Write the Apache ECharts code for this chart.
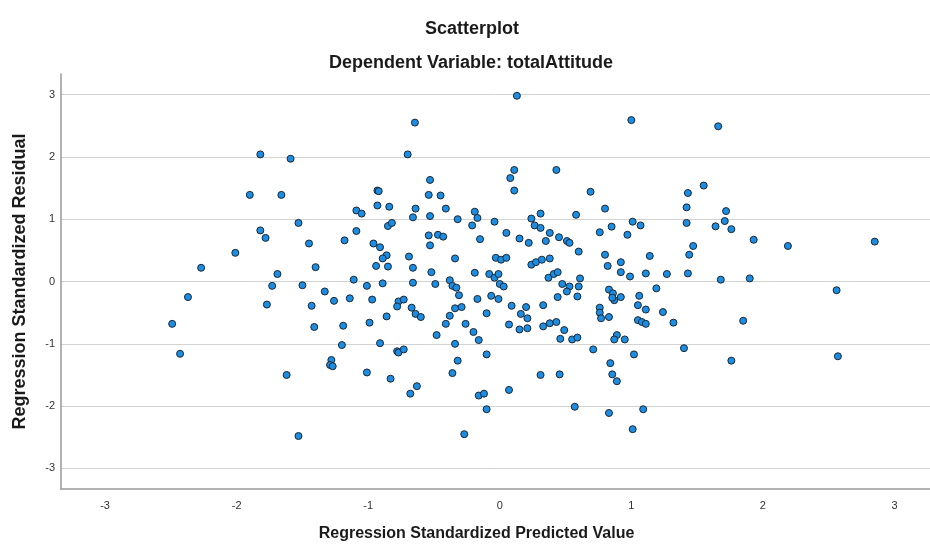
<!DOCTYPE html>
<html>
<head>
<meta charset="utf-8">
<script src="https://cdn.jsdelivr.net/npm/echarts@6/dist/echarts.min.js"></script>
<style>
html,body{margin:0;padding:0;background:#fff;}
#chart{width:930px;height:547px;}
</style>
</head>
<body>
<div id="chart"></div>
<script>
var chartTitle = 'Scatterplot';
var chartSubtitle = 'Dependent Variable: totalAttitude';
var xAxisTitle = 'Regression Standardized Predicted Value';
var yAxisTitle = 'Regression Standardized Residual';
var xTickValues = [-3, -2, -1, 0, 1, 2, 3];
var yTickValues = [-3, -2, -1, 0, 1, 2, 3];

var predictedValues = [
-1.82,-1.59,-1.90,-1.66,-1.53,-1.82,-1.78,-1.45,-2.01,-2.27,-1.40,-1.69,-1.73,-1.50,-1.33,-2.37,-1.77,-1.43,-2.49,-1.41,-2.43,-1.28,-1.29,-1.27,-1.62,-1.53,
-0.645,-0.70,-0.53,-0.93,-0.92,-0.54,-0.45,-1.09,-1.05,-0.93,-0.84,-0.64,-0.41,-0.66,-0.53,-0.32,-0.19,-0.17,-0.04,-0.21,-0.85,-0.82,-1.09,-1.18,-0.54,-0.47,-0.43,-0.53,-0.15,-0.96,-0.91,-0.86,-0.89,-0.94,-0.85,-0.69,-0.66,-0.34,-0.03,-0.52,-0.19,-0.08,-0.04,-0.01,-1.11,-1.01,-0.89,-0.66,-0.49,-0.38,-0.36,-0.33,
-0.31,-1.26,-1.14,-0.97,-0.77,-0.78,-0.73,-0.67,-0.64,-0.60,-0.86,-0.99,-1.19,-1.20,-0.91,-0.78,-0.77,-0.73,-1.01,-0.83,-0.63,-0.68,-0.17,-0.065,-0.01,-0.34,-0.29,-0.38,-0.41,-0.10,-0.26,-0.20,-0.16,-0.48,-0.34,-0.10,-0.32,-0.36,-0.16,-0.12,-0.10,-0.27,
0.13,1.00,0.11,0.08,0.43,0.11,0.69,0.80,0.31,0.24,0.58,0.265,0.31,1.01,1.07,0.05,0.15,0.22,0.38,0.35,0.45,0.51,0.53,0.76,0.85,0.97,0.60,0.80,0.82,0.92,0.92,0.99,1.14,1.11,1.27,0.01,0.05,0.24,0.275,0.32,0.38,0.00,0.03,0.37,0.41,0.44,0.475,0.53,0.61,0.60,0.83,1.19,
0.09,0.16,0.20,0.21,0.07,0.15,0.21,0.33,0.33,0.38,0.43,0.51,0.59,0.44,0.49,0.46,0.55,0.59,0.86,0.87,0.855,0.92,0.76,0.76,0.77,0.83,1.06,1.05,1.11,1.24,1.05,1.08,1.11,0.89,0.87,0.95,0.71,1.02,0.84,0.855,0.89,0.31,0.455,0.07,0.57,0.83,1.09,1.01,
1.66,1.55,1.43,1.42,1.72,1.42,1.64,1.71,1.76,1.93,2.19,2.85,1.47,1.44,1.43,1.68,1.90,2.56,1.32,1.85,1.40,1.76,2.57
];
var residualValues = [
2.04,1.97,1.39,1.39,0.94,0.82,0.70,0.61,0.46,0.22,0.23,0.12,-0.07,-0.06,-0.16,-0.25,-0.37,-0.39,-0.68,-0.73,-1.16,-1.26,-1.34,-1.36,-1.50,-2.48,
2.55,2.04,1.63,1.46,1.45,1.39,1.38,1.14,1.09,1.22,1.20,1.17,1.17,1.03,1.05,1.00,1.12,1.02,0.96,0.90,0.89,0.94,0.81,0.66,0.74,0.75,0.72,0.58,0.68,0.61,0.55,0.42,0.37,0.25,0.24,0.40,0.22,0.37,0.38,0.15,0.14,0.12,0.06,0.12,0.03,-0.07,-0.03,-0.02,-0.04,0.02,-0.07,-0.10,
-0.22,-0.31,-0.27,-0.29,-0.32,-0.40,-0.29,-0.42,-0.52,-0.57,-0.56,-0.66,-0.71,-1.02,-0.99,-1.12,-1.14,-1.09,-1.46,-1.56,-1.68,-1.80,-0.28,-0.23,-0.28,-0.43,-0.41,-0.55,-0.68,-0.51,-0.68,-0.81,-0.94,-0.86,-1.00,-1.17,-1.27,-1.47,-1.83,-1.80,-2.05,-2.45,
2.98,2.59,1.79,1.66,1.79,1.46,1.44,1.17,1.09,1.01,1.07,0.90,0.86,0.96,0.90,0.78,0.69,0.62,0.78,0.65,0.71,0.65,0.62,0.79,0.88,0.75,0.48,0.43,0.25,0.31,0.15,0.08,0.41,0.13,0.12,0.35,0.38,0.27,0.31,0.35,0.37,-0.04,-0.08,0.06,0.12,0.15,-0.04,-0.08,0.05,-0.08,-0.13,-0.11,
-0.39,-0.52,-0.41,-0.59,-0.69,-0.77,-0.75,-0.38,-0.72,-0.67,-0.65,-0.16,-0.24,-0.25,-0.78,-0.92,-0.93,-0.90,-0.19,-0.30,-0.26,-0.25,-0.42,-0.50,-0.59,-0.57,-0.23,-0.38,-0.45,-0.49,-0.62,-0.65,-0.68,-0.86,-0.93,-0.93,-1.09,-1.17,-1.31,-1.49,-1.60,-1.50,-1.49,-1.74,-2.01,-2.11,-2.05,-2.37,
2.49,1.54,1.42,1.19,1.13,0.94,0.885,0.97,0.84,0.67,0.57,0.64,0.57,0.43,0.13,0.03,0.05,-0.14,-0.66,-0.63,-1.07,-1.27,-1.20
];

var points = predictedValues.map(function (x, i) { return [x, residualValues[i]]; });

var chart = echarts.init(document.getElementById('chart'), null, {renderer: 'canvas'});
var fontFam = '"Liberation Sans", Arial, sans-serif';
chart.setOption({
  animation: false,
  backgroundColor: '#ffffff',
  title: [
    {text: chartTitle, left: 467, top: 15, textAlign: 'center',
     textStyle: {fontFamily: fontFam, fontSize: 18, fontWeight: 'bold', color: '#1a1a1a'}},
    {text: chartSubtitle, left: 466, top: 49, textAlign: 'center',
     textStyle: {fontFamily: fontFam, fontSize: 18, fontWeight: 'bold', color: '#1a1a1a'}}
  ],
  grid: {left: 61, right: 0, top: 74, bottom: 54, containLabel: false},
  xAxis: {
    type: 'value', min: -3.335, max: 3.27,
    name: xAxisTitle, nameLocation: 'middle', nameGap: 37,
    nameTextStyle: {fontFamily: fontFam, fontSize: 16, fontWeight: 'bold', color: '#1a1a1a', padding: [0, 38, 0, 0]},
    axisLine: {show: true, onZero: false, lineStyle: {color: '#9a9a9a', width: 1.5}},
    axisTick: {show: false, customValues: xTickValues},
    axisLabel: {customValues: xTickValues, margin: 11, fontFamily: fontFam, fontSize: 11, color: '#333'},
    splitLine: {show: false}
  },
  yAxis: {
    type: 'value', min: -3.33, max: 3.33,
    name: yAxisTitle, nameLocation: 'middle', nameGap: 32,
    nameTextStyle: {fontFamily: fontFam, fontSize: 18, fontWeight: 'bold', color: '#1a1a1a'},
    axisLine: {show: true, onZero: false, lineStyle: {color: '#9a9a9a', width: 1.5}},
    axisTick: {show: false, customValues: yTickValues},
    axisLabel: {customValues: yTickValues, margin: 6, fontFamily: fontFam, fontSize: 11, color: '#333'},
    splitLine: {show: true, lineStyle: {color: '#d2d2d2', width: 1}}
  },
  series: [{
    type: 'scatter',
    data: points,
    symbol: 'circle',
    symbolSize: 7,
    itemStyle: {color: '#1b8de3', borderColor: '#1c2733', borderWidth: 1, opacity: 1}
  }]
});
</script>
</body>
</html>
